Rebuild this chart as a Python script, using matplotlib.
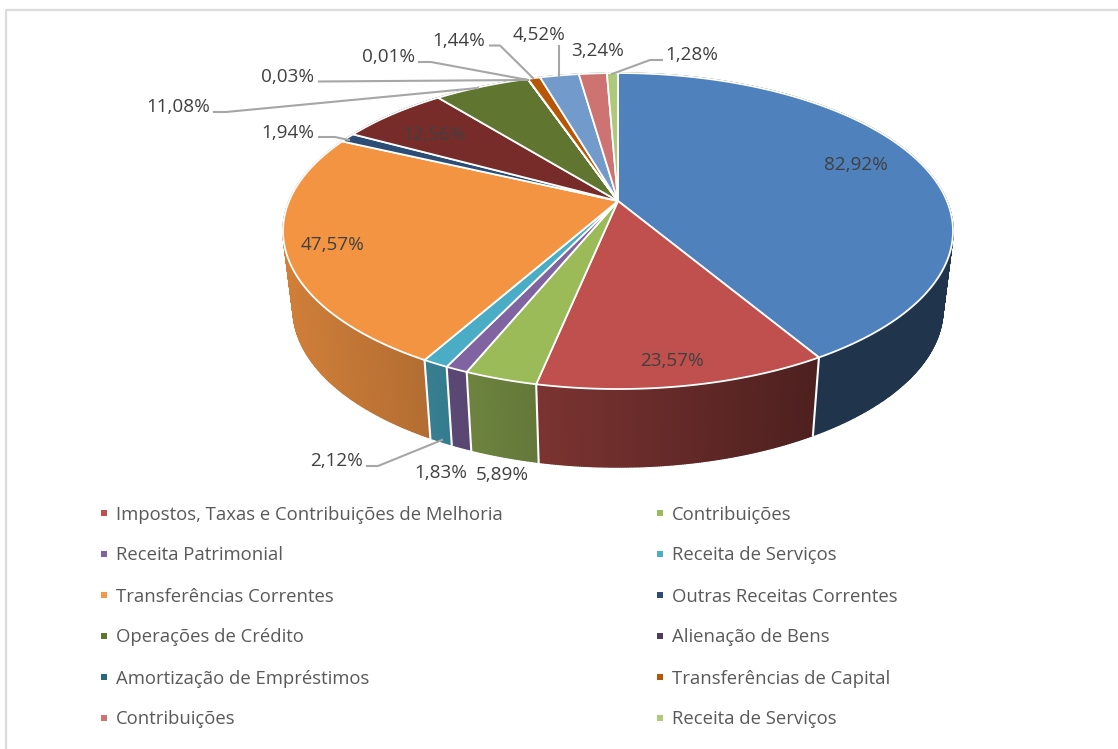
import numpy as np
import matplotlib
matplotlib.use('Agg')
import matplotlib.pyplot as plt

# percent labels as printed on the chart (they add up to 200)
values = [82.92, 23.57, 5.89, 1.83, 2.12, 47.57, 1.94, 12.56, 11.08, 0.03, 0.01, 1.44, 4.52, 3.24, 1.28]
value_labels = ['82,92%', '23,57%', '5,89%', '1,83%', '2,12%', '47,57%', '1,94%', '12,56%',
                '11,08%', '0,03%', '0,01%', '1,44%', '4,52%', '3,24%', '1,28%']
colors = ['#4f81bd', '#c0504d', '#9bbb59', '#8064a2', '#4bacc6', '#f39443', '#2c4d75', '#772c2a',
          '#5f7530', '#4d3b62', '#276a7c', '#b65708', '#729aca', '#cd7371', '#afc97a']

legend_left = ['Impostos, Taxas e Contribuições de Melhoria', 'Receita Patrimonial', 'Transferências Correntes',
               'Operações de Crédito', 'Amortização de Empréstimos', 'Contribuições']
legend_left_colors = ['#c0504d', '#8064a2', '#f79646', '#5f7530', '#276a7c', '#cd7371']
legend_right = ['Contribuições', 'Receita de Serviços', 'Outras Receitas Correntes',
                'Alienação de Bens', 'Transferências de Capital', 'Receita de Serviços']
legend_right_colors = ['#9bbb59', '#4bacc6', '#2c4d75', '#4d3b62', '#b65708', '#afc97a']

# label centres in pixels, same order as values
label_pos = [(856, 164), (672, 360), (502, 474), (441, 472), (337, 459), (333, 243), (288, 132), (434, 133),
             (178, 106), (288, 75), (389, 55), (459, 40), (539, 34), (598, 50), (692, 54)]
leaders = [[(367, 466), (378, 466), (442, 440)],
           [(319, 137), (335, 137), (349, 140)],
           [(214, 112), (226, 112), (478, 88)],
           [(319, 81.5), (528, 80)],
           [(419, 62), (431, 62), (528, 80)],
           [(490, 45.5), (500, 45.5), (533, 78)],
           [(559, 46), (559, 76)],
           [(662, 60), (650, 60), (612, 74)]]

cx, cy = 618, 201
c, a, k = 328.9, 152.3, 0.19
depth = 78
shrink = 0.97


# tilted circle, seen with some perspective
def project(theta):
    u, v = np.sin(theta), np.cos(theta)
    d = 1 + k * v
    return cx + c * u / d, cy - a * v / d


def shade(color, x):
    f = np.clip(0.85 - 0.00085 * (x - 290), 0.4, 1)
    return tuple(np.array(matplotlib.colors.to_rgb(color)) * f)


plt.rcParams['font.family'] = ['Open Sans', 'DejaVu Sans']
fig = plt.figure(figsize=(11.18, 7.49), dpi=100)
ax = fig.add_axes([0, 0, 1, 1])
ax.set_xlim(0, 1118)
ax.set_ylim(749, 0)
ax.axis('off')

# chart frame, only left and top are in the crop
ax.plot([5.5, 5.5, 1118], [749, 9.5, 9.5], color='#dcdcdc', lw=1.6, zorder=0)

edges = np.cumsum([0] + values) / sum(values) * 2 * np.pi

# side wall
for i in range(len(values)):
    n = max(2, int((edges[i + 1] - edges[i]) * 180))
    t = np.linspace(edges[i], edges[i + 1], n)
    x, y = project(t)
    xb = cx + (x - cx) * shrink
    yb = y + depth
    for j in range(n - 1):
        col = shade(colors[i], (x[j] + x[j + 1]) / 2)
        ax.fill([x[j], x[j + 1], xb[j + 1], xb[j]], [y[j], y[j + 1], yb[j + 1], yb[j]],
                color=col, lw=1.0, zorder=1)

# white seams on the visible part of the wall
for e in edges:
    x, y = project(e)
    if y > 235:
        ax.plot([x, cx + (x - cx) * shrink], [y, y + depth], color='white', lw=1.5, zorder=2)

# top face
for i in range(len(values)):
    n = max(2, int((edges[i + 1] - edges[i]) * 180))
    t = np.linspace(edges[i], edges[i + 1], n)
    x, y = project(t)
    ax.fill(np.r_[cx, x], np.r_[cy, y], facecolor=colors[i], edgecolor='white', lw=1.3, zorder=3)

for pts in leaders:
    xs, ys = zip(*pts)
    ax.plot(xs, ys, color='#a6a6a6', lw=1.5, zorder=4)

for lab, (x, y) in zip(value_labels, label_pos):
    ax.text(x, y + 1.5, lab, ha='center', va='center', fontsize=13.6, color='#404040', zorder=5)

rows = [513, 554, 595, 636, 677, 718]
for names, cols, x0 in [(legend_left, legend_left_colors, 104), (legend_right, legend_right_colors, 660)]:
    for name, col, y in zip(names, cols, rows):
        ax.plot([x0], [y], marker='s', ms=4.6, color=col, mew=0, zorder=5)
        ax.text(x0 + 12, y + 1.5, name, ha='left', va='center', fontsize=13.35, color='#595959', zorder=5)

fig.savefig('out.png', dpi=100)
